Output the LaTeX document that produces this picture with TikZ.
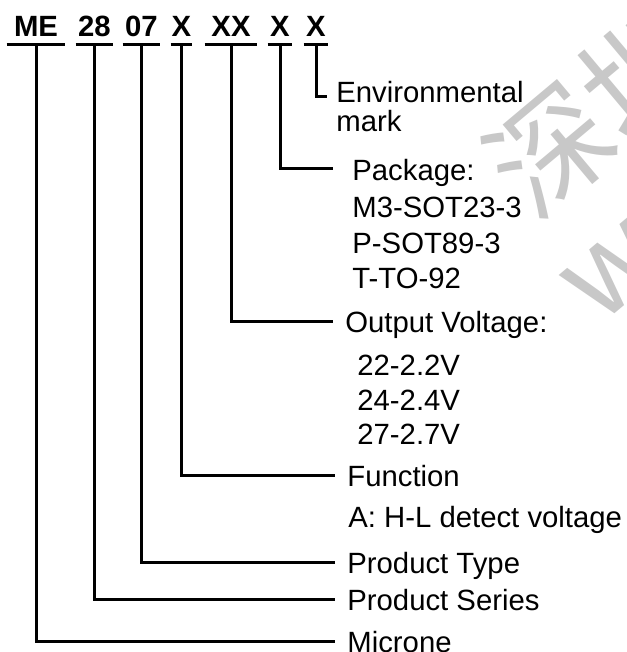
\documentclass[tikz,border=0pt]{standalone}
\usepackage{fontspec}
\setmainfont{Liberation Sans}
\newfontfamily\cjk{Noto Sans CJK SC}
\usepackage{xcolor}
\usepackage{tikz}
\definecolor{wmgray}{HTML}{C8C8C8}
\tikzset{
  code/.style={font=\fontsize{14.65}{17}\selectfont\bfseries, inner sep=0pt,
    text height=10.5pt, text depth=3.5pt, anchor=base},
  lbl/.style={font=\fontsize{14.65}{17}\selectfont, inner sep=0pt,
    text height=10.5pt, text depth=0pt, anchor=base west},
  wm/.style={font=\cjk\fontsize{60}{60}\selectfont, text=wmgray, inner sep=0pt,
    rotate=40, anchor=base west},
  lead/.style={line width=1.5pt}
}

\begin{document}
\begin{tikzpicture}[x=0.5pt,y=-0.5pt]
\useasboundingbox (0,0) rectangle (626,652);
% watermark
\begin{scope}
\clip (0,0) rectangle (626,652);
\node[wm] (wma) at (533,223) {深圳};
\node[wm] (wmb) at (598,328) {www};
\end{scope}
% part number
\node[code, minimum width=29pt] (me) at (36,37) {ME};
\node[code, minimum width=18.5pt] (ser) at (94.5,37) {28};
\node[code, minimum width=18.5pt] (typ) at (141.5,37) {07};
\node[code, minimum width=10.5pt] (fun) at (181.5,37) {X};
\node[code, minimum width=26pt] (volt) at (231,37) {XX};
\node[code, minimum width=12pt] (pack) at (280,37) {X};
\node[code, minimum width=12pt] (env) at (316,37) {X};
\foreach \c in {me,ser,typ,fun,volt,pack,env}
  \draw[lead] (\c.south west) -- (\c.south east);
%
\node[lbl] (envL) at (336,103) {Environmental};
\node[lbl] (envM) at (336,132) {mark};
\node[lbl] (packL) at (352,181) {Package:};
\node[lbl] (p1) at (352,218) {M3-SOT23-3};
\node[lbl] (p2) at (352,253) {P-SOT89-3};
\node[lbl] (p3) at (352,288) {T-TO-92};
\node[lbl] (voltL) at (345,332) {Output Voltage:};
\node[lbl] (v1) at (357,375) {22-2.2V};
\node[lbl] (v2) at (357,410) {24-2.4V};
\node[lbl] (v3) at (357,444) {27-2.7V};
\node[lbl] (funL) at (347,486) {Function};
\node[lbl] (f1) at (348,527) {A: H-L detect voltage};
\node[lbl] (typL) at (347,573) {Product Type};
\node[lbl] (serL) at (347,610) {Product Series};
\node[lbl] (meL) at (347,652) {Microne};
%
\draw[lead] (env.south) |- ([xshift=-4.5pt,yshift=-2pt]envL.west);
\draw[lead] (pack.south) |- ([xshift=-9.5pt,yshift=1pt]packL.west);
\draw[lead] (volt.south) |- ([xshift=-6pt]voltL.west);
\draw[lead] (fun.south) |- ([xshift=-6pt]funL.west);
\draw[lead] (typ.south) |- ([xshift=-6pt]typL.west);
\draw[lead] (ser.south) |- ([xshift=-6pt]serL.west);
\draw[lead] (me.south) |- ([xshift=-6pt]meL.west);
\end{tikzpicture}
\end{document}
